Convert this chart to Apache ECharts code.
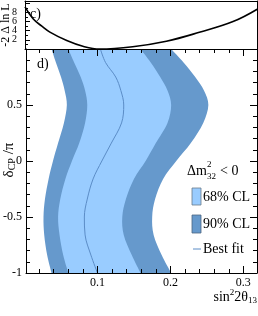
<!DOCTYPE html>
<html><head><meta charset="utf-8">
<script src="https://cdn.jsdelivr.net/npm/echarts@6/dist/echarts.min.js"></script>
<style>html,body{margin:0;padding:0;background:#fff}#c{width:258px;height:316px}</style>
</head><body><div id="c"></div>
<script>
// ---- data ----
const deltaCP   = [1.0, 0.88, 0.75, 0.63, 0.5, 0.34, 0.16, 0.0, -0.16, -0.34, -0.5, -0.66, -0.84, -1.0];
const cl90Left  = [0.037, 0.043, 0.050, 0.055, 0.058, 0.054, 0.046, 0.039, 0.033, 0.028, 0.026, 0.027, 0.031, 0.037];
const cl68Left  = [0.060, 0.068, 0.077, 0.083, 0.086, 0.083, 0.075, 0.065, 0.056, 0.049, 0.046, 0.048, 0.053, 0.060];
const bestFit   = [0.104, 0.111, 0.125, 0.132, 0.136, 0.133, 0.119, 0.106, 0.094, 0.086, 0.082, 0.083, 0.091, 0.100];
const cl68Right = [0.159, 0.173, 0.186, 0.196, 0.201, 0.196, 0.180, 0.166, 0.150, 0.139, 0.134, 0.136, 0.147, 0.159];
const cl90Right = [0.201, 0.218, 0.234, 0.246, 0.252, 0.245, 0.228, 0.208, 0.190, 0.179, 0.175, 0.177, 0.188, 0.201];

const sin2Theta = [0.002, 0.013, 0.025, 0.036, 0.059, 0.081, 0.104, 0.149, 0.195, 0.240, 0.286, 0.319];
const minus2LnL = [9.2, 6.6, 5.0, 3.7, 1.85, 0.6, 0.0, 0.5, 1.7, 3.65, 6.0, 8.7];

const xMajorTicks = [0.1, 0.2, 0.3];
const xMinorTicks = [0.02, 0.04, 0.06, 0.08, 0.12, 0.14, 0.16, 0.18, 0.22, 0.24, 0.26, 0.28];
const xLabels = ['0.1', '0.2', '0.3'];

const XMIN = 0.002, XMAX = 0.3187;
const FONT = "'Liberation Serif','DejaVu Serif',serif";
const DARK = '#6699cc', LIGHT = '#99ccff', FITC = '#5b8cc6';

const chart = echarts.init(document.getElementById('c'), null, {renderer: 'canvas'});

// Catmull-Rom path through pixel points (rendering-level smoothing)
function crPath(pts, start) {
  let d = start ? ('M' + pts[0][0] + ',' + pts[0][1]) : ('L' + pts[0][0] + ',' + pts[0][1]);
  for (let i = 0; i < pts.length - 1; i++) {
    const p0 = pts[Math.max(0, i - 1)], p1 = pts[i], p2 = pts[i + 1], p3 = pts[Math.min(pts.length - 1, i + 2)];
    const c1 = [p1[0] + (p2[0] - p0[0]) / 6, p1[1] + (p2[1] - p0[1]) / 6];
    const c2 = [p2[0] - (p3[0] - p1[0]) / 6, p2[1] - (p3[1] - p1[1]) / 6];
    d += 'C' + c1[0] + ',' + c1[1] + ' ' + c2[0] + ',' + c2[1] + ' ' + p2[0] + ',' + p2[1];
  }
  return d;
}

function band(leftArr, rightArr, color) {
  return {
    type: 'custom', xAxisIndex: 2, yAxisIndex: 2, clip: true, silent: true, z: 1,
    data: [[0, 0]],
    renderItem: function (params, api) {
      const L = [], R = [];
      for (let i = 0; i < deltaCP.length; i++) L.push(api.coord([leftArr[i], deltaCP[i]]));
      for (let i = deltaCP.length - 1; i >= 0; i--) R.push(api.coord([rightArr[i], deltaCP[i]]));
      const d = crPath(L, true) + crPath(R, false) + 'Z';
      return {type: 'path', shape: {pathData: d}, style: {fill: color, stroke: null}};
    }
  };
}

const axisLineStyle = {show: true, onZero: false, lineStyle: {color: '#000', width: 1}};
const noLine = {show: false, onZero: false};
const noTick = {show: false};
const noLabel = {show: false};
const noSplit = {show: false};
const tickStyle = {color: '#000', width: 1};

const option = {
  animation: false,
  grid: [
    {left: 25, right: 1, top: 1, height: 48},
    {left: 25, right: 1, top: 49, height: 224}
  ],
  xAxis: [
    {gridIndex: 0, type: 'value', position: 'bottom', min: XMIN, max: XMAX, axisLine: axisLineStyle, axisTick: noTick, axisLabel: noLabel, splitLine: noSplit, z: 10},
    {gridIndex: 0, type: 'value', position: 'top', min: XMIN, max: XMAX, axisLine: axisLineStyle, axisTick: noTick, axisLabel: noLabel, splitLine: noSplit, z: 10},
    {gridIndex: 1, type: 'value', position: 'bottom', min: XMIN, max: XMAX, axisLine: axisLineStyle,
     axisTick: {show: true, inside: true, length: 7, customValues: xMajorTicks, lineStyle: tickStyle},
     axisLabel: {show: true, customValues: xMajorTicks, formatter: function (v) { const i = xMajorTicks.findIndex(t => Math.abs(t - v) < 1e-6); return i >= 0 ? xLabels[i] : ''; },
       fontFamily: FONT, fontSize: 12, color: '#000', margin: 4},
     splitLine: noSplit, z: 10},
    {gridIndex: 1, type: 'value', position: 'bottom', min: XMIN, max: XMAX, axisLine: noLine,
     axisTick: {show: true, inside: true, length: 4, customValues: xMinorTicks, lineStyle: tickStyle},
     axisLabel: noLabel, splitLine: noSplit, z: 10},
    {gridIndex: 1, type: 'value', position: 'top', min: XMIN, max: XMAX, axisLine: axisLineStyle,
     axisTick: {show: true, inside: true, length: 7, customValues: xMajorTicks, lineStyle: tickStyle},
     axisLabel: noLabel, splitLine: noSplit, z: 10},
    {gridIndex: 1, type: 'value', position: 'top', min: XMIN, max: XMAX, axisLine: noLine,
     axisTick: {show: true, inside: true, length: 4, customValues: xMinorTicks, lineStyle: tickStyle},
     axisLabel: noLabel, splitLine: noSplit, z: 10}
  ],
  yAxis: [
    {gridIndex: 0, type: 'value', position: 'left', min: 0, max: 10.5, interval: 2, axisLine: axisLineStyle,
     axisTick: {show: true, inside: true, length: 5, lineStyle: tickStyle},
     minorTick: {show: true, splitNumber: 2, length: 3, lineStyle: tickStyle},
     axisLabel: {show: true, fontFamily: FONT, fontSize: 10, color: '#000', margin: 8,
       formatter: function (v) { return (v >= 2 && v <= 8) ? String(v) : ''; }},
     splitLine: noSplit, minorSplitLine: noSplit, z: 10},
    {gridIndex: 0, type: 'value', position: 'right', min: 0, max: 10.5, interval: 2, axisLine: axisLineStyle,
     axisTick: noTick, axisLabel: noLabel, splitLine: noSplit, z: 10},
    {gridIndex: 1, type: 'value', position: 'left', min: -1, max: 1, interval: 0.5, axisLine: axisLineStyle,
     axisTick: {show: true, inside: true, length: 7, lineStyle: tickStyle},
     minorTick: {show: true, splitNumber: 5, length: 4, lineStyle: tickStyle},
     axisLabel: {show: true, fontFamily: FONT, fontSize: 12, color: '#000', margin: 4,
       formatter: function (v) { return v === 1 ? '' : String(v); }},
     splitLine: noSplit, minorSplitLine: noSplit, z: 10},
    {gridIndex: 1, type: 'value', position: 'right', min: -1, max: 1, interval: 0.5, axisLine: axisLineStyle,
     axisTick: {show: true, inside: true, length: 7, lineStyle: tickStyle},
     minorTick: {show: true, splitNumber: 5, length: 4, lineStyle: tickStyle},
     axisLabel: noLabel, splitLine: noSplit, minorSplitLine: noSplit, z: 10}
  ],
  series: [
    band(cl90Left, cl90Right, DARK),
    band(cl68Left, cl68Right, LIGHT),
    {type: 'line', xAxisIndex: 2, yAxisIndex: 2, data: deltaCP.map((d, i) => [bestFit[i], d]),
     smooth: 0.35, showSymbol: false, symbol: 'none', silent: true, z: 2,
     lineStyle: {color: FITC, width: 1}},
    {type: 'line', xAxisIndex: 0, yAxisIndex: 0, data: sin2Theta.map((x, i) => [x, minus2LnL[i]]),
     smooth: 0.4, showSymbol: false, symbol: 'none', silent: true, z: 2,
     lineStyle: {color: '#000', width: 1.6}}
  ],
  graphic: [
    {type: 'text', x: 6, y: 25, rotation: Math.PI / 2, style: {text: '-2 Δ ln L', font: '12px ' + FONT, fill: '#000', align: 'center', verticalAlign: 'middle'}},
    {type: 'text', x: 30, y: 14, style: {text: 'c)', font: '14px ' + FONT, fill: '#000', align: 'left', verticalAlign: 'middle'}},
    {type: 'text', x: 37, y: 64, style: {text: 'd)', font: '14px ' + FONT, fill: '#000', align: 'left', verticalAlign: 'middle'}},
    {type: 'text', x: 9, y: 160, rotation: Math.PI / 2, style: {
      text: '{a|δ}{s|CP}{a| /π}', align: 'center', verticalAlign: 'middle',
      rich: {a: {font: '15px ' + FONT, fill: '#000', verticalAlign: 'middle'}, s: {font: '10px ' + FONT, fill: '#000', verticalAlign: 'bottom', padding: [6, 0, 0, 0]}}}},
    {type: 'text', x: 187, y: 171, style: {text: 'Δm', font: '14px ' + FONT, fill: '#000', align: 'left', verticalAlign: 'middle'}},
    {type: 'text', x: 207, y: 165, style: {text: '2', font: '9px ' + FONT, fill: '#000', align: 'left', verticalAlign: 'middle'}},
    {type: 'text', x: 207, y: 177, style: {text: '32', font: '9px ' + FONT, fill: '#000', align: 'left', verticalAlign: 'middle'}},
    {type: 'text', x: 220, y: 171, style: {text: '< 0', font: '14px ' + FONT, fill: '#000', align: 'left', verticalAlign: 'middle'}},
    {type: 'rect', shape: {x: 192, y: 188, width: 9, height: 17}, style: {fill: LIGHT, stroke: '#6b7b8c', lineWidth: 0.8}},
    {type: 'text', x: 203, y: 197, style: {text: '68% CL', font: '14px ' + FONT, fill: '#000', align: 'left', verticalAlign: 'middle'}},
    {type: 'rect', shape: {x: 192, y: 215, width: 9, height: 18}, style: {fill: DARK, stroke: '#4d6680', lineWidth: 0.8}},
    {type: 'text', x: 203, y: 224, style: {text: '90% CL', font: '14px ' + FONT, fill: '#000', align: 'left', verticalAlign: 'middle'}},
    {type: 'line', shape: {x1: 193, y1: 249, x2: 201, y2: 249}, style: {stroke: FITC, lineWidth: 1}},
    {type: 'text', x: 203, y: 249, style: {text: 'Best fit', font: '14px ' + FONT, fill: '#000', align: 'left', verticalAlign: 'middle'}},
    {type: 'text', x: 257, y: 297, style: {
      text: '{a|sin}{p|2}{a|2θ}{b|13}', align: 'right', verticalAlign: 'middle',
      rich: {a: {font: '14px ' + FONT, fill: '#000', verticalAlign: 'middle'},
             p: {font: '9px ' + FONT, fill: '#000', verticalAlign: 'top', padding: [0, 0, 8, 0]},
             b: {font: '9px ' + FONT, fill: '#000', verticalAlign: 'bottom', padding: [8, 0, 0, 0]}}}}
  ]
};
chart.setOption(option);
</script>
</body></html>
